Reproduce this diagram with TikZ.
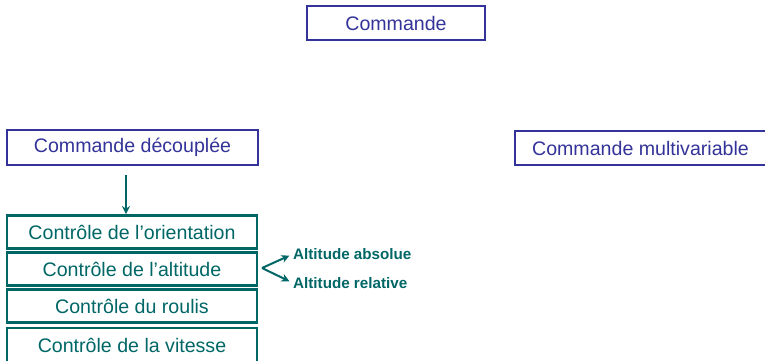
\documentclass[tikz,border=0pt]{standalone}
\usepackage{fontspec}
\setmainfont{Liberation Sans}
\usetikzlibrary{arrows.meta}
\definecolor{cblue}{HTML}{333399}
\definecolor{cteal}{HTML}{006666}
\begin{document}
\begin{tikzpicture}[x=1pt,y=-1pt,
  bluebox/.style={draw=cblue,line width=2.2pt,text=cblue,font=\fontsize{19.6}{22}\selectfont,inner sep=0pt},
  tealbox/.style={draw=cteal,line width=2.2pt,text=cteal,font=\fontsize{19.6}{22}\selectfont,inner sep=0pt,minimum width=250pt,minimum height=33pt},
  lbl/.style={text=cteal,font=\bfseries\fontsize{15.2}{18}\selectfont,anchor=west,inner sep=0pt},
  conn/.style={draw=cteal,line width=2pt,-{Stealth[length=8pt,width=8pt]}}]
\useasboundingbox (0,0) rectangle (765,360);
\node[bluebox,minimum width=178pt,minimum height=34pt] (cmd) at (396,23) {Commande};
\node[bluebox,minimum width=251pt,minimum height=35pt] (dec) at (132.5,147.5) {Commande découplée};
\node[bluebox,minimum width=251pt,minimum height=34pt] (multi) at (640.5,148) {Commande multivariable};
\node[tealbox] (ori) at (132,232) {Contrôle de l’orientation};
\node[tealbox] (alt) at (132,269) {Contrôle de l’altitude};
\node[tealbox] (rou) at (132,306) {Contrôle du roulis};
\node[tealbox,minimum height=34pt] (vit) at (132,345) {Contrôle de la vitesse};
\coordinate (a0) at (126,175);
\draw[conn] (a0) -- (126,214);
\coordinate (s) at (262,268);
\node[lbl] (abs) at (293,254) {Altitude absolue};
\node[lbl] (rel) at (293,283) {Altitude relative};
\draw[conn,shorten >=4pt] (s) -- (abs.west);
\draw[conn,shorten >=4pt] (s) -- (rel.west);
\end{tikzpicture}
\end{document}
